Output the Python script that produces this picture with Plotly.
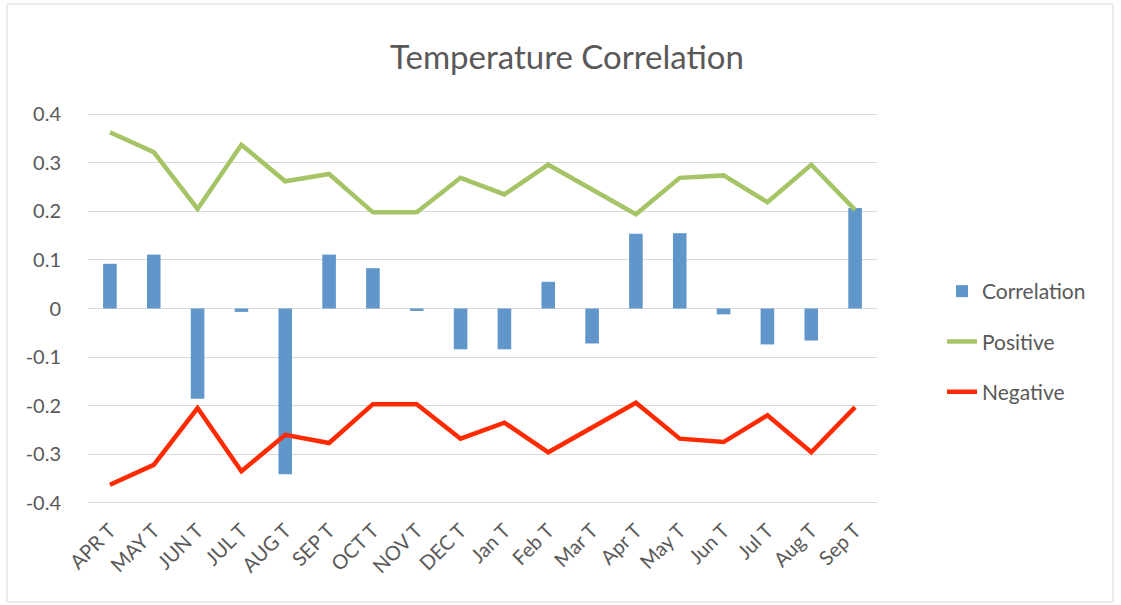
import plotly.graph_objects as go

categories = ["APR T", "MAY T", "JUN T", "JUL T", "AUG T", "SEP T", "OCT T", "NOV T", "DEC T",
              "Jan T", "Feb T", "Mar T", "Apr T", "May T", "Jun T", "Jul T", "Aug T", "Sep T"]
correlation = [0.092, 0.111, -0.186, -0.007, -0.341, 0.111, 0.083, -0.005, -0.084,
               -0.084, 0.055, -0.072, 0.154, 0.155, -0.012, -0.074, -0.066, 0.207]
positive = [0.363, 0.322, 0.205, 0.337, 0.262, 0.277, 0.198, 0.198, 0.269,
            0.235, 0.296, 0.245, 0.194, 0.269, 0.274, 0.219, 0.296, 0.203]
negative = [-0.363, -0.322, -0.205, -0.335, -0.260, -0.277, -0.197, -0.197, -0.268,
            -0.235, -0.296, -0.245, -0.194, -0.268, -0.275, -0.220, -0.296, -0.203]
y_ticks = [0.4, 0.3, 0.2, 0.1, 0, -0.1, -0.2, -0.3, -0.4]
y_tick_text = ["0.4", "0.3", "0.2", "0.1", "0", "-0.1", "-0.2", "-0.3", "-0.4"]

FONT = "Lato, 'Open Sans', sans-serif"
GREY = "#595959"

fig = go.Figure()
fig.add_trace(go.Bar(x=categories, y=correlation, name="Correlation",
                     marker=dict(color="#6096CA", line=dict(width=0)),
                     legendgroup="a"))
fig.add_trace(go.Scatter(x=categories, y=positive, name="Positive", mode="lines",
                         line=dict(color="#A5C466", width=4.5), legendgroup="b"))
fig.add_trace(go.Scatter(x=categories, y=negative, name="Negative", mode="lines",
                         line=dict(color="#FF2A00", width=4.5), legendgroup="c"))

L, R, T, B = 88, 244, 113, 101
W, H = 1121, 605
pw, ph = W - L - R, H - T - B

fig.update_layout(
    width=W, height=H,
    margin=dict(l=L, r=R, t=T, b=B, autoexpand=False),
    paper_bgcolor="white", plot_bgcolor="white",
    font=dict(family=FONT, color=GREY, size=18),
    title=dict(text="Temperature Correlation", x=567 / W, xanchor="center",
               y=1 - 57 / H, yanchor="middle", yref="container",
               font=dict(size=33, color=GREY, family=FONT)),
    bargap=0.69,
    showlegend=True,
    legend=dict(x=(942 - L) / pw, xanchor="left", y=0.5 - 33 / ph, yanchor="middle",
                traceorder="grouped", tracegroupgap=20,
                font=dict(size=21, color=GREY, family=FONT),
                bgcolor="rgba(0,0,0,0)"),
    xaxis=dict(type="category", tickangle=-45, showgrid=False, showline=False,
               ticks="", ticklabelstandoff=10,
               tickfont=dict(size=20, color=GREY, family=FONT),
               range=[-0.5, len(categories) - 0.5]),
    yaxis=dict(range=[-0.4025, 0.4025], tickvals=y_ticks, ticktext=y_tick_text,
               showgrid=True, gridcolor="#D9D9D9", gridwidth=1.3,
               zeroline=False, showline=False, ticks="",
               ticklabelstandoff=26,
               tickfont=dict(size=20, color=GREY, family=FONT)),
    shapes=[dict(type="rect", xref="paper", yref="paper",
                 x0=(7 - L) / pw, x1=(1113 - L) / pw,
                 y0=(H - B - 602) / ph, y1=(H - B - 4) / ph,
                 line=dict(color="#D9D9D9", width=1), fillcolor="rgba(0,0,0,0)",
                 layer="below")],
)

fig.write_html("out.html", config={"displayModeBar": False},
               post_script="document.body.style.margin='0';")
